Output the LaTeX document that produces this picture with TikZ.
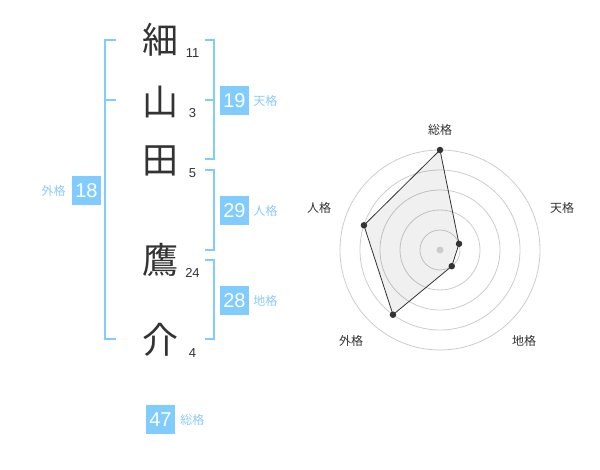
\documentclass[tikz,border=0pt]{standalone}
\usepackage{fontspec}
\setmainfont{Liberation Sans}
\newfontfamily\jpfont{Noto Sans CJK JP}
\usepackage{tikz}
\usetikzlibrary{positioning,backgrounds}
\definecolor{boxblue}{HTML}{80CCFF}
\definecolor{labblue}{HTML}{8CCBF5}
\definecolor{ink}{HTML}{333333}
\tikzset{SEI style/.style={x=1pt,y=-1pt,
	kanji/.style={font=\jpfont\fontsize{36}{36}\selectfont,text=ink,inner sep=0},
	kaku/.style={font=\fontsize{13}{13}\selectfont,text=ink,inner sep=0},
	score/.style={fill=boxblue,text=white,minimum size=29pt,inner sep=0,font=\fontsize{20}{20}\selectfont},
	lab/.style={font=\jpfont\fontsize{12}{12}\selectfont,text=labblue,inner sep=0},
	brk/.style={draw=boxblue,line width=2pt},
	ring/.style={draw=black!20,line width=0.8pt},
	dot/.style={circle,fill=ink,inner sep=0,minimum size=6.5pt},
	axlab/.style={font=\jpfont\fontsize{12}{12}\selectfont,text=ink,inner sep=0}}}

\begin{document}
\begin{tikzpicture}[SEI style]
	\useasboundingbox (0,0) rectangle (600,470);

	% name
	\node[kanji] (k1) at (160,40) {細};
	\node[kanji] (k2) at (160,102) {山};
	\node[kanji] (k3) at (160,161) {田};
	\node[kanji] (k4) at (160,260) {鷹};
	\node[kanji] (k5) at (160,340) {介};

	\node[kaku] (s1) at (192.5,53) {11};
	\node[kaku] (s2) at (192.5,113) {3};
	\node[kaku] (s3) at (192.5,173) {5};
	\node[kaku] (s4) at (192.5,273) {24};
	\node[kaku] (s5) at (192.5,353) {4};

	% brackets
	\draw[brk] (116,40) -- (105,40) -- (105,339) -- (116,339);
	\draw[brk] (105,100) -- (116,100);
	\draw[brk] (205,40) -- (214,40) -- (214,159) -- (205,159);
	\draw[brk] (214,100) -- (205,100);
	\draw[brk] (205,170) -- (214,170) -- (214,250) -- (205,250);
	\draw[brk] (205,260) -- (214,260) -- (214,339) -- (205,339);

	\node[score] (b18) at (86.5,190.5) {18};
	\node[lab, left=6pt of b18] (l18) {外格};
	\node[score] (b19) at (234.5,100.5) {19};
	\node[lab, right=4pt of b19] (l19) {天格};
	\node[score] (b29) at (234.5,210.5) {29};
	\node[lab, right=4pt of b29] (l29) {人格};
	\node[score] (b28) at (234.5,300.5) {28};
	\node[lab, right=4pt of b28] (l28) {地格};
	\node[score] (b47) at (160.5,419.5) {47};
	\node[lab, right=5pt of b47] (l47) {総格};

	% radar
	\coordinate (c) at (440,250);
	\node[dot] (d1) at ([shift={(-90:100)}]c) {};
	\node[dot] (d2) at ([shift={(-18:20)}]c) {};
	\node[dot] (d3) at ([shift={(54:20)}]c) {};
	\node[dot] (d4) at ([shift={(126:80)}]c) {};
	\node[dot] (d5) at ([shift={(-162:80)}]c) {};
	\begin{scope}[on background layer]
		\foreach \r in {20,40,...,100}
			\draw[ring] (c) circle (\r pt);
		\fill[black, fill opacity=0.06] (d1.center) -- (d2.center) -- (d3.center) -- (d4.center) -- (d5.center) -- cycle;
		\draw[ink, line width=0.8pt] (d1.center) -- (d2.center) -- (d3.center) -- (d4.center) -- (d5.center) -- cycle;
	\end{scope}
	\node[circle, fill=black!20, inner sep=0, minimum size=7pt] (c0) at (c) {};

	\node[axlab] (a1) at (440,130) {総格};
	\node[axlab] (a2) at (562,208) {天格};
	\node[axlab] (a3) at (524,341) {地格};
	\node[axlab] (a4) at (351,341) {外格};
	\node[axlab] (a5) at (319,208) {人格};
\end{tikzpicture}
\end{document}
